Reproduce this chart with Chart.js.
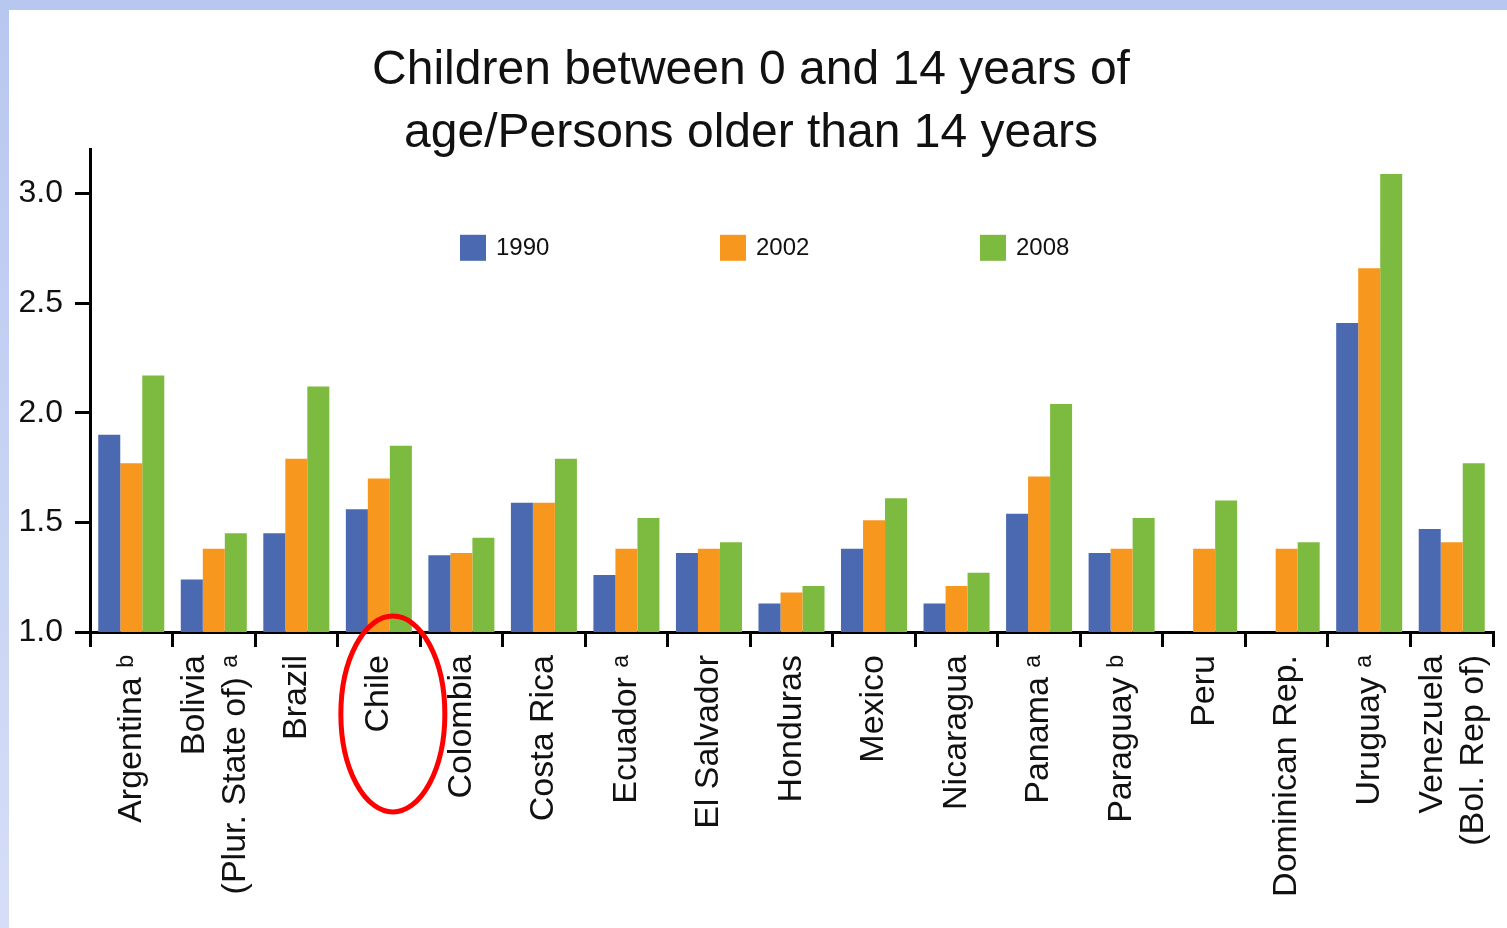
<!DOCTYPE html>
<html>
<head>
<meta charset="utf-8">
<script src="https://cdn.jsdelivr.net/npm/chart.js@4/dist/chart.umd.min.js"></script>
<style>
  html, body { margin: 0; padding: 0; }
  body {
    width: 1507px; height: 928px; overflow: hidden;
    background: linear-gradient(#b8c7ef, #d6def7);
  }
  #wrap {
    position: absolute; left: 9px; top: 10px;
    width: 1498px; height: 918px; background: #fff;
  }
</style>
</head>
<body>
<div id="wrap"><canvas id="chart"></canvas></div>
<script>
/* data */
const countries = [
  ["Argentina ᵇ"], ["Bolivia", "(Plur. State of) ᵃ"], ["Brazil"], ["Chile"], ["Colombia"],
  ["Costa Rica"], ["Ecuador ᵃ"], ["El Salvador"], ["Honduras"], ["Mexico"], ["Nicaragua"],
  ["Panama ᵃ"], ["Paraguay ᵇ"], ["Peru"], ["Dominican Rep."], ["Uruguay ᵃ"],
  ["Venezuela", "(Bol. Rep of)"]
];
const years = ["1990", "2002", "2008"];
const v1990 = [1.90, 1.24, 1.45, 1.56, 1.35, 1.59, 1.26, 1.36, 1.13, 1.38, 1.13, 1.54, 1.36, null, null, 2.41, 1.47];
const v2002 = [1.77, 1.38, 1.79, 1.70, 1.36, 1.59, 1.38, 1.38, 1.18, 1.51, 1.21, 1.71, 1.38, 1.38, 1.38, 2.66, 1.41];
const v2008 = [2.17, 1.45, 2.12, 1.85, 1.43, 1.79, 1.52, 1.41, 1.21, 1.61, 1.27, 2.04, 1.52, 1.60, 1.41, 3.09, 1.77];
const yTicks = [1.0, 1.5, 2.0, 2.5, 3.0];

const colors = ["#4a69b0", "#f7971e", "#7cbb3f"];
const font = "'Liberation Sans', Arial, sans-serif";

/* legend drawn inside the plot area */
const innerLegend = {
  id: "innerLegend",
  afterDraw(chart) {
    const { ctx, chartArea } = chart;
    ctx.save();
    ctx.font = "24px " + font;
    ctx.textBaseline = "middle";
    chart.data.datasets.forEach((ds, i) => {
      const x = chartArea.left + 370 + i * 260;
      const y = chartArea.top + 98;
      ctx.fillStyle = ds.backgroundColor;
      ctx.fillRect(x, y - 13, 26, 26);
      ctx.fillStyle = "#111";
      ctx.fillText(ds.label, x + 36, y + 1);
    });
    ctx.restore();
  }
};

/* two-line country names: centre both lines on the category */
const centerLines = {
  id: "centerLines",
  beforeDraw(chart) {
    const items = chart.scales.x.getLabelItems();
    items.forEach(it => {
      if (!it._moved && Array.isArray(it.label) && it.label.length > 1) {
        it.options.translation[0] -= 19;
        it._moved = true;
      }
    });
  }
};

/* red circle around Chile */
const chileMark = {
  id: "chileMark",
  afterDraw(chart) {
    const { ctx, chartArea } = chart;
    const x = chart.scales.x.getPixelForValue(3) + 14;
    const y = chartArea.bottom + 82;
    ctx.save();
    ctx.strokeStyle = "#ff0000";
    ctx.lineWidth = 5;
    ctx.beginPath();
    ctx.ellipse(x, y, 52, 98, 0, 0, Math.PI * 2);
    ctx.stroke();
    ctx.restore();
  }
};

new Chart(document.getElementById("chart"), {
  type: "bar",
  data: {
    labels: countries,
    datasets: [
      { label: years[0], data: v1990, backgroundColor: colors[0] },
      { label: years[1], data: v2002, backgroundColor: colors[1] },
      { label: years[2], data: v2008, backgroundColor: colors[2] }
    ]
  },
  options: {
    responsive: true,
    maintainAspectRatio: false,
    animation: false,
    layout: { padding: { left: 0, right: 14, top: 0, bottom: 0 } },
    datasets: { bar: { categoryPercentage: 0.8, barPercentage: 1.0 } },
    plugins: {
      legend: { display: false },
      tooltip: { enabled: false },
      title: {
        display: true,
        text: ["Children between 0 and 14 years of", "age/Persons older than 14 years"],
        color: "#111",
        font: { family: font, size: 48, weight: "normal", lineHeight: 1.3 },
        padding: { top: 30, bottom: -15 }
      }
    },
    scales: {
      x: {
        grid: { offset: true, drawOnChartArea: false, color: "#000", lineWidth: 3, tickLength: 15 },
        border: { color: "#000", width: 3 },
        ticks: {
          color: "#111",
          font: { family: font, size: 34 },
          maxRotation: 90, minRotation: 90,
          autoSkip: false, padding: 8
        },
        afterFit(scale) {
          scale.height = 296;
          scale.paddingLeft = 0;
          scale.paddingRight = 0;
        }
      },
      y: {
        min: 1.0, max: 3.2,
        grid: { drawOnChartArea: false, color: "#000", lineWidth: 3, tickLength: 15 },
        border: { color: "#000", width: 3 },
        afterBuildTicks(scale) { scale.ticks = yTicks.map(v => ({ value: v })); },
        ticks: {
          color: "#111",
          font: { family: font, size: 32 },
          padding: 12,
          callback: v => v.toFixed(1)
        },
        afterFit(scale) {
          scale.width = 81;
          scale.paddingTop = 0;
          scale.paddingBottom = 0;
        }
      }
    }
  },
  plugins: [centerLines, innerLegend, chileMark]
});
</script>
</body>
</html>
